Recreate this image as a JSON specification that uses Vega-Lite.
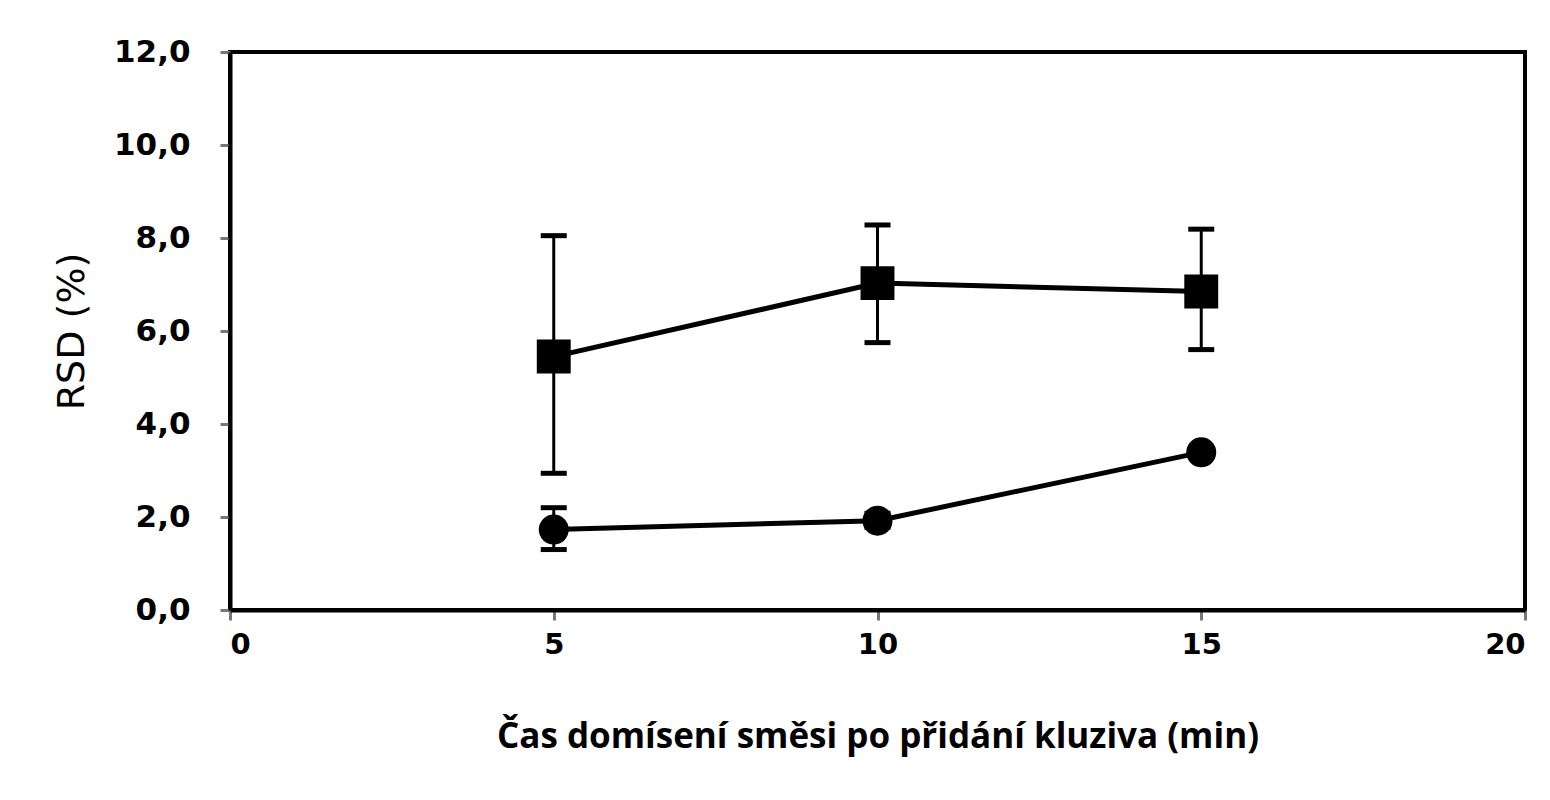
{
  "$schema": "https://vega.github.io/schema/vega-lite/v6.json",
  "width": 1295,
  "height": 558,
  "autosize": {"type": "none"},
  "padding": {"left": 230, "top": 52, "right": 25, "bottom": 190},
  "background": "white",
  "config": {
    "locale": {"number": {"decimal": ",", "thousands": " ", "grouping": [3], "currency": ["", " Kč"]}},
    "view": {"stroke": "black", "strokeWidth": 4},
    "axis": {"grid": false, "domainColor": "black", "domainWidth": 4, "tickColor": "#777", "tickWidth": 3, "tickSize": 10}
  },
  "data": {
    "values": [
      {"series": "A", "x": 5, "y": 5.45, "lo": 2.94, "hi": 8.05},
      {"series": "A", "x": 10, "y": 7.03, "lo": 5.75, "hi": 8.28},
      {"series": "A", "x": 15, "y": 6.85, "lo": 5.6, "hi": 8.19},
      {"series": "B", "x": 5, "y": 1.73, "lo": 1.3, "hi": 2.2},
      {"series": "B", "x": 10, "y": 1.92, "lo": 1.78, "hi": 2.08},
      {"series": "B", "x": 15, "y": 3.39, "lo": 3.39, "hi": 3.39}
    ]
  },
  "encoding": {
    "x": {
      "field": "x", "type": "quantitative",
      "scale": {"domain": [0, 20], "nice": false, "zero": false},
      "axis": {
        "values": [0, 5, 10, 15, 20], "format": "d",
        "title": "Čas domísení směsi po přidání kluziva  (min)",
        "labelFont": "DejaVu Sans", "labelFontWeight": "bold", "labelFontSize": 29, "labelColor": "black", "labelPadding": 10,
        "titleFont": "Open Sans", "titleFontWeight": "bold", "titleFontSize": 35, "titleColor": "black", "titlePadding": 60
      }
    },
    "y": {
      "field": "y", "type": "quantitative",
      "scale": {"domain": [0, 12], "nice": false},
      "axis": {
        "values": [0, 2, 4, 6, 8, 10, 12], "format": ".1f",
        "title": "RSD (%)",
        "labelFont": "DejaVu Sans", "labelFontWeight": "bold", "labelFontSize": 31, "labelColor": "black", "labelPadding": 30,
        "titleFont": "DejaVu Sans", "titleFontWeight": "normal", "titleFontSize": 38, "titleColor": "black", "titlePadding": 22
      }
    }
  },
  "layer": [
    {
      "mark": {"type": "rule", "color": "black", "strokeWidth": 3},
      "encoding": {"y": {"field": "lo", "type": "quantitative"}, "y2": {"field": "hi"}}
    },
    {
      "mark": {"type": "tick", "orient": "horizontal", "color": "black", "size": 26, "thickness": 5, "opacity": 1},
      "encoding": {"y": {"field": "lo", "type": "quantitative"}}
    },
    {
      "mark": {"type": "tick", "orient": "horizontal", "color": "black", "size": 26, "thickness": 5, "opacity": 1},
      "encoding": {"y": {"field": "hi", "type": "quantitative"}}
    },
    {
      "mark": {"type": "line", "color": "black", "strokeWidth": 5},
      "encoding": {"detail": {"field": "series"}}
    },
    {
      "mark": {"type": "point", "filled": true, "opacity": 1, "color": "black"},
      "encoding": {
        "shape": {"field": "series", "type": "nominal", "scale": {"domain": ["A", "B"], "range": ["square", "circle"]}, "legend": null},
        "size": {"field": "series", "type": "nominal", "scale": {"domain": ["A", "B"], "range": [1150, 900]}, "legend": null}
      }
    }
  ]
}
